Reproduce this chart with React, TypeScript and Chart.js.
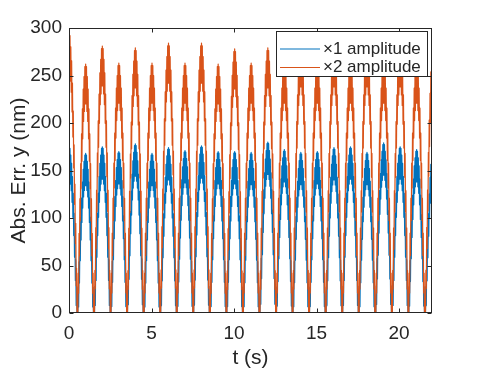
import React, { useEffect, useRef } from "react";
import { Chart, registerables } from "chart.js";

Chart.register(...registerables);

// ---- data ----
const xTicks = [0, 5, 10, 15, 20];
const yTicks = [0, 50, 100, 150, 200, 250, 300];
const seriesNames = ["×1 amplitude", "×2 amplitude"];
const seriesColors = ["#0072BD", "#D95319"];

// centre time (s) of each hump of |error|; zeros lie half a period away
const humpCentres = [0.01, 1.01, 2.02, 3.02, 4.02, 5.03, 6.03, 7.03, 8.03, 9.04, 10.04, 11.04, 12.05, 13.05, 14.05, 15.05, 16.06, 17.06, 18.06, 19.07, 20.07, 21.07, 22.08];
// upper envelope at the top of each hump (nm)
const bluePeaks = [175, 168, 175, 170, 178, 168, 174, 171, 176, 170, 170, 169, 180, 172, 169, 170, 174, 175, 169, 179, 175, 172, 174];
const orangePeaks = [295, 262, 281, 263, 279, 263, 284, 263, 284, 262, 278, 263, 279, 263, 280, 263, 280, 263, 280, 263, 280, 263, 282];
// thickness of the noise band (nm)
const blueBand = 34;
const orangeBand = 42;
// offsets from hump centre (s) and shape of a hump as a fraction of its peak
const humpOffsets = [-0.5, -0.475, -0.45, -0.425, -0.4, -0.375, -0.35, -0.325, -0.3, -0.275, -0.25, -0.225, -0.2, -0.175, -0.15, -0.125, -0.1, -0.075, -0.05, -0.025, 0, 0.025, 0.05, 0.075, 0.1, 0.125, 0.15, 0.175, 0.2, 0.225, 0.25, 0.275, 0.3, 0.325, 0.35, 0.375, 0.4, 0.425, 0.45, 0.475];
const humpProfile = [0, 0.08, 0.16, 0.24, 0.32, 0.39, 0.46, 0.53, 0.6, 0.66, 0.72, 0.77, 0.82, 0.86, 0.9, 0.93, 0.95, 0.97, 0.99, 1.0, 1.0, 1.0, 0.99, 0.97, 0.95, 0.93, 0.9, 0.86, 0.82, 0.77, 0.72, 0.66, 0.6, 0.53, 0.46, 0.39, 0.32, 0.24, 0.16, 0.08];

const FONT = '"Liberation Sans", Arial, Helvetica, sans-serif';
const INK = "#262626";

function buildSeries(peaks: number[], band: number) {
  const pts: { x: number; y: number }[] = [];
  humpCentres.forEach((c, i) => {
    humpOffsets.forEach((d, j) => {
      const top = peaks[i] * humpProfile[j];
      pts.push({ x: c + d, y: j % 2 === 0 ? top : Math.max(0, top - band) });
    });
  });
  return pts;
}

const framePlugin = {
  id: "matlabFrame",
  afterDraw(chart: any) {
    const { ctx, chartArea } = chart;
    const xs = chart.scales.x;
    const ys = chart.scales.y;
    const L = Math.round(chartArea.left) + 0.5;
    const R = Math.round(chartArea.right) - 0.5;
    const T = Math.round(chartArea.top) + 0.5;
    const B = Math.round(chartArea.bottom) - 0.5;
    ctx.save();
    ctx.strokeStyle = INK;
    ctx.lineWidth = 1;
    ctx.strokeRect(L, T, R - L, B - T);
    const tl = 4;
    ctx.beginPath();
    xTicks.forEach((v) => {
      const px = Math.round(xs.getPixelForValue(v)) + 0.5;
      ctx.moveTo(px, B); ctx.lineTo(px, B - tl);
      ctx.moveTo(px, T); ctx.lineTo(px, T + tl);
    });
    yTicks.forEach((v) => {
      const py = Math.round(ys.getPixelForValue(v)) + 0.5;
      ctx.moveTo(L, py); ctx.lineTo(L + tl, py);
      ctx.moveTo(R, py); ctx.lineTo(R - tl, py);
    });
    ctx.stroke();

    // axis titles
    ctx.fillStyle = INK;
    ctx.font = `21px ${FONT}`;
    ctx.textAlign = "center";
    ctx.textBaseline = "middle";
    ctx.fillText("t (s)", (chartArea.left + chartArea.right) / 2, 358);
    ctx.save();
    ctx.translate(19, (chartArea.top + chartArea.bottom) / 2);
    ctx.rotate(-Math.PI / 2);
    ctx.fillText("Abs. Err. y (nm)", 0, 0);
    ctx.restore();

    // legend
    const lx = 276.5, ly = 31.5, lw = 151, lh = 45;
    ctx.fillStyle = "#ffffff";
    ctx.fillRect(lx, ly, lw, lh);
    ctx.strokeStyle = INK;
    ctx.strokeRect(lx, ly, lw, lh);
    ctx.font = `17px ${FONT}`;
    ctx.textAlign = "left";
    seriesNames.forEach((name, i) => {
      const y = 49 + i * 18.5;
      ctx.strokeStyle = seriesColors[i];
      ctx.lineWidth = 1.2;
      ctx.beginPath();
      ctx.moveTo(280, y); ctx.lineTo(320, y);
      ctx.stroke();
      ctx.fillStyle = INK;
      ctx.fillText(name, 323, y);
    });
    ctx.restore();
  },
};

export default function App() {
  const ref = useRef<HTMLCanvasElement>(null);
  useEffect(() => {
    document.body.style.margin = "0";
    const canvas = ref.current;
    if (!canvas) return;
    const lineStyle = {
      borderWidth: 1.2,
      borderJoinStyle: "round" as const,
      borderCapStyle: "round" as const,
      borderDash: [10000, 0],
      pointRadius: 0,
      tension: 0,
    };
    const chart = new Chart(canvas, {
      type: "line",
      data: {
        datasets: [
          {
            label: seriesNames[0],
            data: buildSeries(bluePeaks, blueBand),
            borderColor: seriesColors[0],
            ...lineStyle,
            order: 1,
          },
          {
            label: seriesNames[1],
            data: buildSeries(orangePeaks, orangeBand),
            borderColor: seriesColors[1],
            ...lineStyle,
            order: 0,
          },
        ],
      },
      options: {
        responsive: false,
        animation: false,
        devicePixelRatio: 1,
        layout: { padding: { top: 28, right: 47, left: 0, bottom: 0 } },
        plugins: { legend: { display: false }, tooltip: { enabled: false } },
        scales: {
          x: {
            type: "linear",
            min: 0,
            max: 22,
            afterFit: (s: any) => { s.height = 58; },
            afterBuildTicks: (s: any) => { s.ticks = xTicks.map((v) => ({ value: v })); },
            ticks: { color: INK, font: { family: FONT, size: 19 }, padding: 9, maxRotation: 0 },
            grid: { display: false, drawTicks: false },
            border: { display: false },
          },
          y: {
            min: 0,
            max: 300,
            afterFit: (s: any) => { s.width = 69; },
            afterBuildTicks: (s: any) => { s.ticks = yTicks.map((v) => ({ value: v })); },
            ticks: { color: INK, font: { family: FONT, size: 19 }, padding: 7 },
            grid: { display: false, drawTicks: false },
            border: { display: false },
          },
        },
      },
      plugins: [framePlugin],
    });
    return () => chart.destroy();
  }, []);
  return <canvas ref={ref} width={479} height={371} style={{ display: "block" }} />;
}
